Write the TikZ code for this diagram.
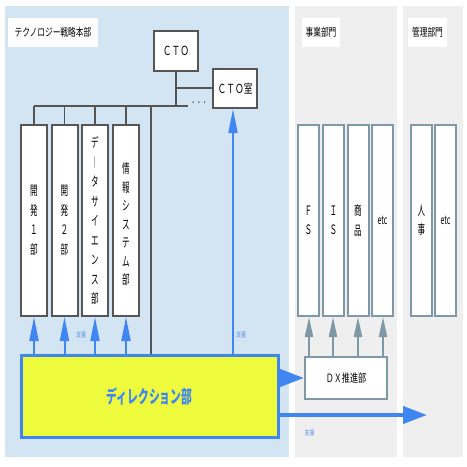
\documentclass[tikz,border=0pt]{standalone}
\usepackage{fontspec}
\setmainfont[FakeStretch=0.7]{Noto Sans CJK JP}
\newfontfamily\dirfont[FakeStretch=0.6]{Noto Sans CJK JP}
\newfontfamily\vfont[FakeStretch=0.58]{Noto Sans CJK JP}
\usetikzlibrary{arrows.meta}
\definecolor{bgblue}{HTML}{D3E4F3}
\definecolor{bggray}{HTML}{EFEFEF}
\definecolor{boxdark}{HTML}{555555}
\definecolor{bluearr}{HTML}{3F86F2}
\definecolor{dyellow}{HTML}{EEFB3C}
\definecolor{slate}{HTML}{7F98A6}
\definecolor{sienlbl}{HTML}{5A8FE8}
\begin{document}
\begin{tikzpicture}[x=1pt,y=-1pt,
  titlebox/.style={fill=white,minimum height=29pt,inner sep=0pt,font=\fontsize{11}{12}\selectfont},
  topbox/.style={draw=boxdark,line width=2pt,fill=white,minimum width=44pt,minimum height=39pt,inner sep=0pt,font=\fontsize{12.5}{14}\selectfont},
  deptbox/.style={draw=boxdark,line width=2pt,fill=white,minimum width=26pt,minimum height=191pt,inner sep=0pt,align=center,font=\vfont\fontsize{13}{19.5}\selectfont},
  bizbox/.style={draw=slate,line width=2pt,fill=white,minimum width=21pt,minimum height=191pt,inner sep=0pt,align=center,font=\vfont\fontsize{13}{19.5}\selectfont},
  orgline/.style={draw=boxdark,line width=1.6pt},
  barrow/.style={draw=bluearr,line width=2pt,-{Triangle[length=24pt,width=9pt]}},
  bigarrow/.style={draw=bluearr,line width=4pt,-{Triangle[length=24pt,width=17pt]}},
  sarrow/.style={draw=slate,line width=2pt,-{Triangle[length=20pt,width=8pt]}},
  sien/.style={text=sienlbl,font=\fontsize{7}{8}\selectfont,inner sep=0pt}
]
\useasboundingbox (0,0) rectangle (467,467);
\fill[white] (0,0) rectangle (467,467);
\fill[bgblue] (5,6) rectangle (289,457);
\fill[bggray] (295,6) rectangle (397,457);
\fill[bggray] (403,6) rectangle (463,457);

% titles
\node[titlebox,minimum width=90pt] (t1) at (53,32.5) {テクノロジー戦略本部};
\node[titlebox,minimum width=38pt] (t2) at (321,32.5) {事業部門};
\node[titlebox,minimum width=39pt] (t3) at (427.5,32.5) {管理部門};

% top boxes
\node[topbox,minimum height=40pt] (cto) at (176,51) {ＣＴＯ};
\node[topbox] (ctor) at (235,88.5) {ＣＴＯ室};

% departments
\node[deptbox] (d1) at (34,220.5) {開\\発\\１\\部};
\node[deptbox] (d2) at (64.5,220.5) {開\\発\\２\\部};
\node[deptbox] (d3) at (95,220.5) {デ\\︱\\タ\\サ\\イ\\エ\\ン\\ス\\部};
\node[deptbox,font=\vfont\fontsize{13}{18.5}\selectfont] (d4) at (126,220.5) {\\情\\報\\シ\\ス\\テ\\ム\\部};

% business / admin
\node[bizbox] (b1) at (308.5,220.5) {Ｆ\\Ｓ};
\node[bizbox] (b2) at (333.5,220.5) {Ｉ\\Ｓ};
\node[bizbox] (b3) at (358,220.5) {商\\品};
\node[bizbox,font=\vfont\fontsize{12}{12}\selectfont] (b4) at (382.5,220.5) {etc};
\node[bizbox] (m1) at (421.5,220.5) {人\\事};
\node[bizbox,font=\vfont\fontsize{12}{12}\selectfont] (m2) at (445.5,220.5) {etc};

% direction and DX
\node[draw=bluearr,line width=3pt,fill=dyellow,minimum width=257pt,minimum height=82pt,inner sep=0pt,
      text=bluearr,font=\dirfont\bfseries\fontsize{18}{20}\selectfont] (dir) at (149.5,396) {ディレクション部};
\node[draw=slate,line width=2pt,fill=white,minimum width=82pt,minimum height=42pt,inner sep=0pt,
      font=\fontsize{11.5}{12}\selectfont] (dx) at (346,378) {ＤＸ推進部};

% org chart lines
\coordinate (busL) at (34,106);
\coordinate (busR) at (188,106);
\coordinate (ctoj) at (176,106);
\coordinate (ctorj) at (176,88);
\coordinate (dline) at (151,106);
\draw[orgline] (busL) -- (busR);
\draw[orgline] (cto.south) -- (ctoj);
\draw[orgline] (ctorj) -- (ctor.west |- ctorj);
\node[text=boxdark,font=\fontsize{14}{14}\selectfont,inner sep=0pt] (dots) at (199,103) {. . .};
\foreach \d in {d1,d2,d3,d4} \draw[orgline] (busL -| \d.north) -- (\d.north);
\draw[orgline] (dline) -- (dir.north -| dline);

% support arrows
\foreach \d in {d1,d2,d3,d4} \draw[barrow] (dir.north -| \d.south) -- (\d.south);
\coordinate (ax) at (233,0);
\draw[barrow] (dir.north -| ax) -- (ctor.south -| ax);
\node[sien] (s1) at (81,335) {支援};
\node[sien] (s2) at (241,335) {支援};

% right arrows
\draw[bigarrow] (dir.east |- dx.west) -- (dx.west);
\coordinate (farend) at (427,415);
\draw[bigarrow] (dir.east |- farend) -- (farend);
\node[sien] (s3) at (309.5,433) {支援};

% DX arrows
\coordinate (x1) at (309,0);
\coordinate (x2) at (333,0);
\coordinate (x3) at (358,0);
\coordinate (x4) at (383,0);
\draw[sarrow] (dx.north -| x1) -- (b1.south -| x1);
\draw[sarrow] (dx.north -| x2) -- (b2.south -| x2);
\draw[sarrow] (dx.north -| x3) -- (b3.south -| x3);
\draw[sarrow] (dx.north -| x4) -- (b4.south -| x4);
\end{tikzpicture}
\end{document}
